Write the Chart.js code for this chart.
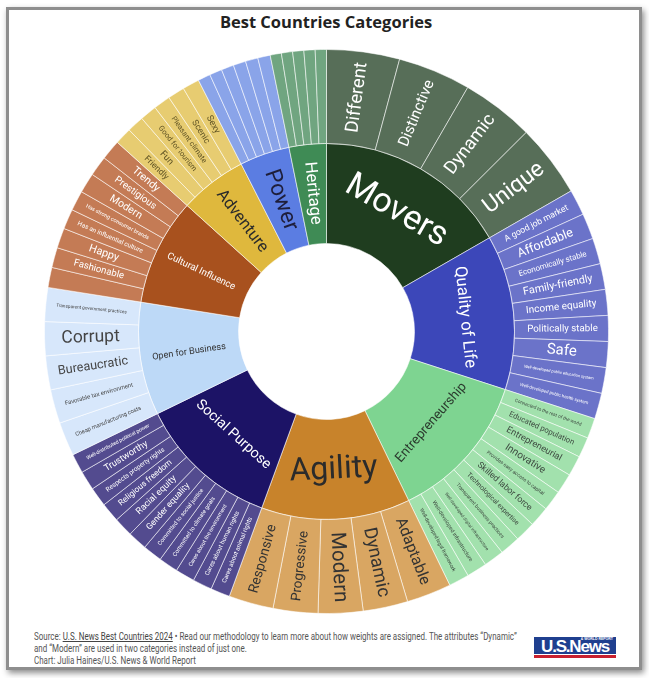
<!DOCTYPE html>
<html>
<head>
<meta charset="utf-8">
<title>Best Countries Categories</title>
<script src="https://cdn.jsdelivr.net/npm/chart.js@4.4.1/dist/chart.umd.min.js"></script>
<style>
    html, body {
        margin: 0;
        padding: 0;
        width: 649px;
        height: 678px;
        overflow: hidden;
        background: #ffffff;
        font-family: Roboto, sans-serif;
    }
    .card {
        position: absolute;
        left: 6px;
        top: 7px;
        width: 630px;
        height: 657px;
        border: 3px solid #8e8e8e;
        box-shadow: 2px 3px 6px rgba(0, 0, 0, 0.45);
        background: #ffffff;
    }
    h1 {
        position: absolute;
        left: 0;
        top: 10px;
        width: 652px;
        margin: 0;
        text-align: center;
        font: bold 16.5px 'Open Sans', sans-serif;
        color: #222222;
    }
    #chartWrap {
        position: absolute;
        left: 44px;
        top: 49px;
        width: 565px;
        height: 565px;
    }
    .footer {
        position: absolute;
        left: 34px;
        top: 631px;
        font-size: 10.5px;
        line-height: 12px;
        color: #555555;
        white-space: nowrap;
        transform: scaleX(0.76);
        transform-origin: 0 0;
    }
    .footer u { color: #444444; }
    .logo {
        position: absolute;
        left: 534px;
        top: 637px;
        width: 82px;
    }
    .logo-box {
        position: relative;
        height: 17px;
        background: #1f3f8f;
        color: #ffffff;
        font: bold 17px 'Liberation Sans', Arial, sans-serif;
        letter-spacing: -1.2px;
        line-height: 20px;
        text-align: center;
        overflow: hidden;
    }
    .logo-box .wr {
        position: absolute;
        right: 3px;
        top: 0px;
        font-size: 3.5px;
        letter-spacing: 0;
        line-height: 5px;
    }
    .logo-bar {
        height: 3px;
        margin-top: 1px;
        background: #c8202f;
    }
</style>
</head>
<body>
<div class="card"></div>
<h1>Best Countries Categories</h1>
<div id="chartWrap"><canvas id="sunburst" width="565" height="565"></canvas></div>
<div class="footer">
    Source: <u>U.S. News Best Countries 2024</u> • Read our methodology to learn more about how weights are assigned. The attributes “Dynamic”<br>
    and “Modern” are used in two categories instead of just one.<br>
    Chart: Julia Haines/U.S. News &amp; World Report
</div>
<div class="logo">
    <div class="logo-box"><span class="wr">&amp; WORLD REPORT</span>U.S.News</div>
    <div class="logo-bar"></div>
</div>

<script>
/* ===========================
   DATA
   =========================== */

// categories, clockwise from 12 o'clock
const categories = ['Movers', 'Quality of Life', 'Entrepreneurship', 'Agility', 'Social Purpose',
    'Open for Business', 'Cultural Influence', 'Adventure', 'Power', 'Heritage'];

// share of the full circle (%)
const categoryShares = [16.7, 13.3, 12.8, 12.8, 12.2, 9.7, 9.2, 5.8, 4.3, 3.2];

// attributes of each category, clockwise; '' = slice that has no label in the source
const movers = ['Different', 'Distinctive', 'Dynamic', 'Unique'];
const qualityOfLife = ['A good job market', 'Affordable', 'Economically stable', 'Family-friendly',
    'Income equality', 'Politically stable', 'Safe', 'Well-developed public education system',
    'Well-developed public health system'];
const entrepreneurship = ['Connected to the rest of the world', 'Educated population', 'Entrepreneurial',
    'Innovative', 'Provides easy access to capital', 'Skilled labor force', 'Technological expertise',
    'Transparent business practices', 'Well-developed digital infrastructure',
    'Well-developed infrastructure', 'Well-developed legal framework'];
const agility = ['Adaptable', 'Dynamic', 'Modern', 'Progressive', 'Responsive'];
const socialPurpose = ['Cares about animal rights', 'Cares about human rights', 'Cares about the environment',
    'Committed to climate goals', 'Committed to social justice', 'Gender equality', 'Racial equity',
    'Religious freedom', 'Respects property rights', 'Trustworthy', 'Well-distributed political power'];
const openForBusiness = ['Cheap manufacturing costs', 'Favorable tax environment', 'Bureaucratic',
    'Corrupt', 'Transparent government practices'];
const culturalInfluence = ['', 'Fashionable', 'Happy', 'Has an influential culture',
    'Has strong consumer brands', 'Modern', 'Prestigious', 'Trendy'];
const adventure = ['Friendly', 'Fun', 'Good for tourism', 'Pleasant climate', 'Scenic', 'Sexy'];
const power = ['', '', '', '', '', ''];
const heritage = ['', '', '', '', ''];

const attributes = [movers, qualityOfLife, entrepreneurship, agility, socialPurpose,
    openForBusiness, culturalInfluence, adventure, power, heritage];

/* ===========================
   STYLES
   =========================== */

const innerColors = ['#1f3d1f', '#3c47b9', '#7ed491', '#c8832b', '#1c1366',
    '#bdd9f7', '#a8511e', '#dfb83d', '#5b7de2', '#3f8b55'];
const outerColors = ['#576e58', '#6b73c9', '#a2e1ad', '#d9a662', '#534b8f',
    '#d7e7fb', '#c47b55', '#e7cc71', '#8aa4e9', '#70a580'];
const innerTextColors = ['#ffffff', '#ffffff', '#2b3b2e', '#2b2b2b', '#ffffff',
    '#333333', '#ffffff', '#2b2b2b', '#1e1e3a', '#ffffff'];
const outerTextColors = ['#ffffff', '#ffffff', '#3d4a40', '#333333', '#ffffff',
    '#444444', '#ffffff', '#5e5223', '#ffffff', '#ffffff'];
// text orientation of the category labels
const innerOrient = ['tan', 'tan', 'tan', 'tan', 'tan', 'rad', 'rad', 'rad', 'rad', 'rad'];

/* ===========================
   BUILD RINGS
   =========================== */

const outerNames = [], outerValues = [], outerBg = [], outerFg = [];
attributes.forEach((list, i) => {
    list.forEach(name => {
        outerNames.push(name);
        outerValues.push(categoryShares[i] / list.length);
        outerBg.push(outerColors[i]);
        outerFg.push(outerTextColors[i]);
    });
});

/* ===========================
   LABEL FITTING (sunburst style)
   =========================== */

const TEXTPAD = 3;
const W_MULT = 1.3;
const H_MULT = 1.2;

function maxHalfSize(a, halfAngle, r, ring) {
    const q = a + 1 / (2 * Math.tan(halfAngle));
    return r * Math.min(
        1 / (Math.sqrt(q * q + 0.5) + q),
        ring / (Math.sqrt(a * a + ring / 2) + a)
    );
}

function drawArcLabel(ctx, arc, text, color, orient, maxFont, edgePad) {
    if (!text) return;
    const p = arc.getProps(['x', 'y', 'startAngle', 'endAngle', 'innerRadius', 'outerRadius'], true);
    const half = (p.endAngle - p.startAngle) / 2;
    const mid = (p.startAngle + p.endAngle) / 2;
    const r = p.outerRadius - 2 * TEXTPAD;
    const ring = 1 - p.innerRadius / p.outerRadius;
    const rMid = (p.innerRadius + p.outerRadius) / 2;
    const halfEff = Math.atan(Math.max(0.2, rMid * Math.tan(half) - edgePad) / rMid);

    ctx.font = '100px Roboto';
    const w = ctx.measureText(text).width / 100 * W_MULT;
    const h = H_MULT;

    let a, s, size, rot;
    if (orient === 'tan') {
        a = h / w;
        s = maxHalfSize(a, halfEff, r, ring);
        size = 2 * s / w;
        rot = mid + Math.PI / 2;
    } else {
        a = w / h;
        s = maxHalfSize(a, halfEff, r, ring);
        size = 2 * s / h;
        rot = mid;
    }
    if (Math.cos(rot) < -1e-6) rot += Math.PI;
    const font = Math.min(size, maxFont);
    const rc = rMid + 1;

    ctx.save();
    ctx.translate(p.x + rc * Math.cos(mid), p.y + rc * Math.sin(mid));
    ctx.rotate(rot);
    ctx.font = font.toFixed(2) + 'px Roboto';
    ctx.fillStyle = color;
    ctx.textAlign = 'center';
    ctx.textBaseline = 'middle';
    ctx.fillText(text, 0, 0);
    ctx.restore();
}

const sunburstLabels = {
    id: 'sunburstLabels',
    afterDatasetsDraw(chart) {
        const ctx = chart.ctx;
        const outerMeta = chart.getDatasetMeta(0);
        const innerMeta = chart.getDatasetMeta(1);
        outerMeta.data.forEach((arc, i) => {
            drawArcLabel(ctx, arc, outerNames[i], outerFg[i], 'rad', 30, 2);
        });
        innerMeta.data.forEach((arc, i) => {
            drawArcLabel(ctx, arc, categories[i], innerTextColors[i], innerOrient[i], 48, 0);
        });
    }
};

new Chart(document.getElementById('sunburst'), {
    type: 'doughnut',
    data: {
        labels: outerNames,
        datasets: [{
            label: 'Attributes',
            data: outerValues,
            backgroundColor: outerBg,
            borderColor: 'rgba(255,255,255,0.55)',
            borderWidth: 1,
            weight: 94
        }, {
            label: 'Categories',
            data: categoryShares,
            backgroundColor: innerColors,
            borderColor: 'rgba(255,255,255,0.55)',
            borderWidth: 1,
            weight: 100
        }]
    },
    options: {
        responsive: false,
        animation: false,
        cutout: 88,
        plugins: {
            legend: { display: false },
            tooltip: { enabled: false }
        }
    },
    plugins: [sunburstLabels]
});
</script>
</body>
</html>
